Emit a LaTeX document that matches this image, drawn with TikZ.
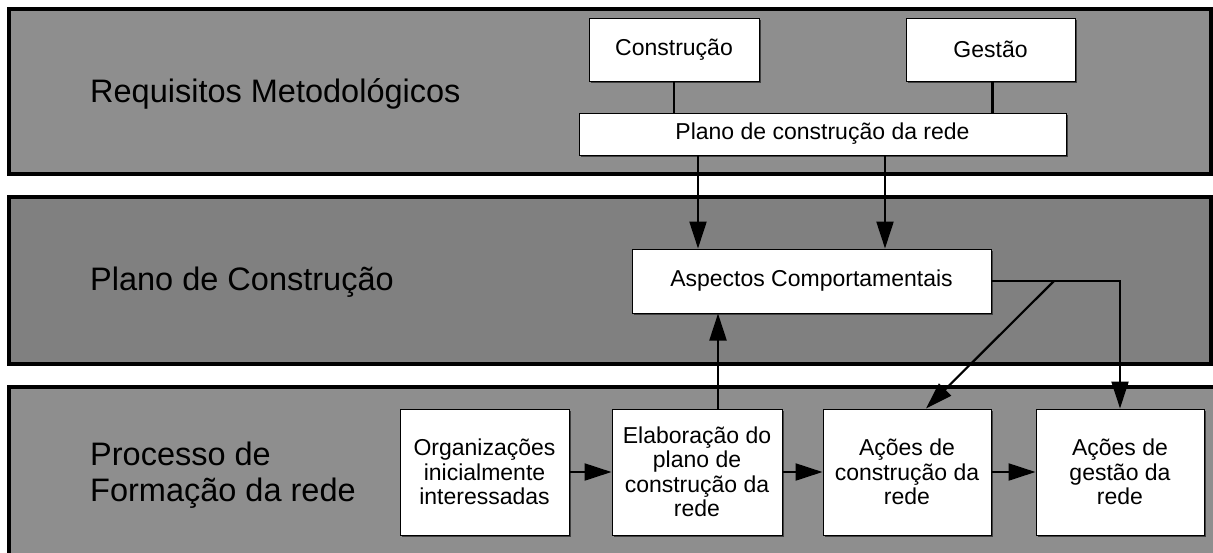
\documentclass[tikz,border=0pt]{standalone}
\usepackage{fontspec}
\setmainfont{Liberation Sans}
\usetikzlibrary{arrows.meta,shadows}
\definecolor{bandA}{RGB}{142,142,142}
\definecolor{bandB}{RGB}{128,128,128}
\begin{document}
\begin{tikzpicture}[x=1pt,y=-1pt,
  band/.style={draw=black,line width=3.5pt},
  wbox/.style={draw=black,fill=white,line width=1pt,inner sep=0pt,align=center,
    drop shadow={shadow xshift=1.5pt,shadow yshift=-1.5pt,fill=black!75,opacity=1},
    font=\fontsize{23}{24.5}\selectfont},
  biglabel/.style={anchor=west,align=left,inner sep=0pt,font=\fontsize{32.5}{36}\selectfont},
  conn/.style={line width=2.2pt},
  arr/.style={line width=2.2pt,-{Triangle[length=27pt,width=17pt]}}]
\useasboundingbox (0,0) rectangle (1213,552);
\fill[white] (0,0) rectangle (1213,552);
\begin{scope}
\clip (0,0) rectangle (1213,552);
\draw[band,fill=bandA] (9,9) rectangle (1211,174);
\draw[band,fill=bandB] (9,197) rectangle (1211,364);
\draw[band,fill=bandA] (9,387) rectangle (1220,570);
\end{scope}
% labels
\node[biglabel] (l1) at (90,94) {Requisitos Metodológicos};
\node[biglabel] (l2) at (90,282) {Plano de Construção};
\node[biglabel] (l3) at (90,475) {Processo de\\Formação da rede};
% boxes
\node[wbox,minimum width=170pt,minimum height=63pt] (constr) at (674,49.5) {Construção};
\node[wbox,minimum width=169pt,minimum height=63pt] (gestao) at (990.5,49.5) {Gestão};
\node[wbox,minimum width=487pt,minimum height=42pt] (plano) at (822.5,134) {Plano de construção da rede};
\node[wbox,minimum width=359pt,minimum height=64pt] (aspect) at (811.5,281) {Aspectos Comportamentais};
\node[wbox,minimum width=169pt,minimum height=126pt] (org) at (484.5,472) {Organizações\\inicialmente\\interessadas};
\node[wbox,minimum width=170pt,minimum height=126pt] (elab) at (697,472) {Elaboração do\\plano de\\construção da\\rede};
\node[wbox,minimum width=168pt,minimum height=126pt] (acc) at (907,472) {Ações de\\construção da\\rede};
\node[wbox,minimum width=168pt,minimum height=126pt] (acg) at (1120,472) {Ações de\\gestão da\\rede};
% connectors
\draw[conn] (constr.south) -- (constr.south |- plano.north);
\draw[conn] ([xshift=2pt]gestao.south) -- ([xshift=2pt]gestao.south |- plano.north);
\draw[arr] ([xshift=-124.5pt]plano.south) -- ([xshift=-124.5pt]plano.south |- aspect.north);
\draw[arr] ([xshift=62.5pt]plano.south) -- ([xshift=62.5pt]plano.south |- aspect.north);
\draw[arr] ([xshift=21pt]elab.north) -- ([xshift=21pt]elab.north |- aspect.south);
\draw[arr] (aspect.east) -- (acg.north |- aspect.east) -- (acg.north);
\coordinate (dstart) at (1054,281);
\draw[arr] (dstart) -- ([xshift=19pt]acc.north);
\draw[arr] (org.east) -- (elab.west);
\draw[arr] (elab.east) -- (acc.west);
\draw[arr] (acc.east) -- (acg.west);
\end{tikzpicture}
\end{document}
